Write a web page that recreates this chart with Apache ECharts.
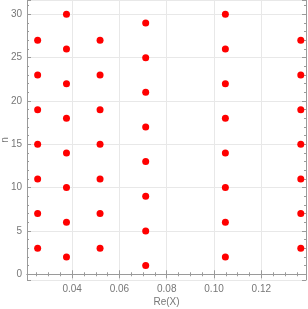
<!DOCTYPE html>
<html><head><meta charset="utf-8">
<script src="https://cdn.jsdelivr.net/npm/echarts@6/dist/echarts.min.js"></script>
<style>html,body{margin:0;padding:0;background:#fff}#c{width:308px;height:309px}</style>
</head><body><div id="c"></div>
<script>
const xCols = [0.0254, 0.0376, 0.0518, 0.0711, 0.1048, 0.1367];
const nCol1 = [3, 7, 11, 15, 19, 23, 27];
const nCol2 = [2, 6, 10, 14, 18, 22, 26, 30];
const nCol3 = [3, 7, 11, 15, 19, 23, 27];
const nCol4 = [1, 5, 9, 13, 17, 21, 25, 29];
const nCol5 = [2, 6, 10, 14, 18, 22, 26, 30];
const nCol6 = [3, 7, 11, 15, 19, 23, 27];
const nCols = [nCol1, nCol2, nCol3, nCol4, nCol5, nCol6];
const points = [];
nCols.forEach((col, i) => col.forEach(n => points.push([xCols[i], n])));

const xMin = 0.0209, xMax = 0.1389, yMin = -0.66, yMax = 31.65;
const axisColor = '#9a9a9a';
const labelColor = '#777';
const chart = echarts.init(document.getElementById('c'));
const frameAxis = {
  axisLine: {show: true, lineStyle: {color: axisColor, width: 1}},
  axisTick: {show: true, inside: true, length: 4, lineStyle: {color: axisColor}},
  axisLabel: {show: false}, splitLine: {show: false}
};
chart.setOption({
  animation: false,
  grid: {left: 27, right: 2, top: 0, bottom: 29, containLabel: false, outerBoundsMode: 'none'},
  xAxis: [{
    type: 'value', min: xMin, max: xMax, splitNumber: 6,
    name: 'Re(X)', nameLocation: 'middle', nameGap: 17, nameMoveOverlap: false,
    nameTextStyle: {color: labelColor, fontSize: 10, fontFamily: 'Liberation Sans'},
    axisLine: {show: true, lineStyle: {color: axisColor}},
    axisTick: {show: true, inside: true, length: 4, lineStyle: {color: axisColor}},
    minorTick: {show: true, splitNumber: 4, length: 2, lineStyle: {color: axisColor}},
    axisLabel: {color: labelColor, fontSize: 10, fontFamily: 'Liberation Sans', margin: 4,
      showMinLabel: false, showMaxLabel: false, align: 'center',
      alignMinLabel: 'center', alignMaxLabel: 'center',
      formatter: v => v.toFixed(2)},
    splitLine: {show: true, lineStyle: {color: '#e8e8e8', width: 1}}
  }, Object.assign({type: 'value', min: xMin, max: xMax, splitNumber: 6, position: 'top'}, frameAxis, {minorTick: {show: true, splitNumber: 4, length: 2, lineStyle: {color: axisColor}}})],
  yAxis: [{
    type: 'value', min: yMin, max: yMax, splitNumber: 6,
    name: 'n', nameLocation: 'middle', nameGap: 17, nameRotate: 90, nameMoveOverlap: false,
    nameTextStyle: {color: labelColor, fontSize: 10, fontFamily: 'Liberation Sans'},
    axisLine: {show: true, lineStyle: {color: axisColor}},
    axisTick: {show: true, inside: true, length: 4, lineStyle: {color: axisColor}},
    minorTick: {show: true, splitNumber: 5, length: 2, lineStyle: {color: axisColor}},
    axisLabel: {color: labelColor, fontSize: 10, fontFamily: 'Liberation Sans', margin: 5,
      showMinLabel: false, showMaxLabel: false, verticalAlign: 'middle',
      alignMinLabel: 'middle', alignMaxLabel: 'middle'},
    splitLine: {show: true, lineStyle: {color: '#e8e8e8', width: 1}}
  }, Object.assign({type: 'value', min: yMin, max: yMax, splitNumber: 6, position: 'right'}, frameAxis, {minorTick: {show: true, splitNumber: 5, length: 2, lineStyle: {color: axisColor}}})],
  series: [{
    type: 'scatter', data: points, symbolSize: 7,
    itemStyle: {color: '#ff0000', opacity: 1}
  }]
});
</script></body></html>
